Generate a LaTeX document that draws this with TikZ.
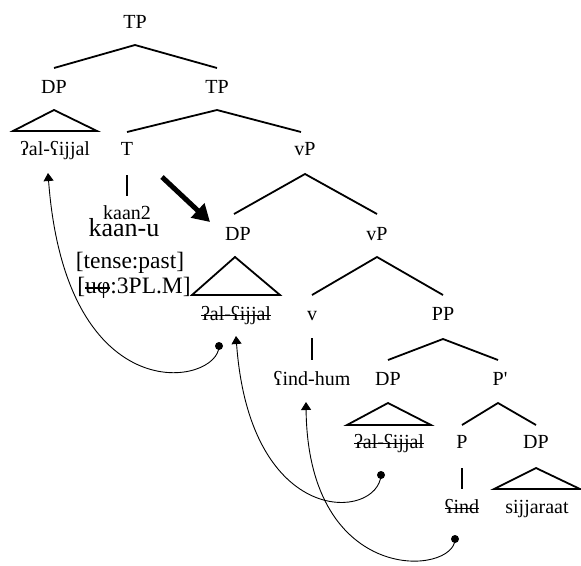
\documentclass[tikz,border=0pt]{standalone}
\usepackage{fontspec}
\setmainfont{Liberation Serif}
\newcommand\strk[1]{\leavevmode\setbox0=\hbox{#1}\rlap{\rule[0.19em]{\wd0}{1.4pt}}\box0}
\usetikzlibrary{arrows.meta}
\begin{document}
\begin{tikzpicture}[x=1pt,y=-1pt,
  lab/.style={inner sep=0pt, anchor=base, font=\fontsize{20}{24}\selectfont},
  bigw/.style={inner sep=0pt, anchor=base, font=\fontsize{26}{30}\selectfont},
  feat/.style={inner sep=0pt, anchor=base, font=\fontsize{23.5}{28}\selectfont},
  br/.style={line width=1.8pt},
  mv/.style={line width=0.9pt, -{Triangle[width=10pt,length=8pt]}},
  dotn/.style={circle, fill, inner sep=0pt, minimum size=8pt},
  thickarr/.style={line width=5pt, -{Triangle[width=19pt,length=17pt]}}]
\useasboundingbox (0,0) rectangle (581,565);
% labels
\node[lab] (tp1) at (135,28) {TP};
\node[lab] (dp1) at (54,93) {DP};
\node[lab] (tp2) at (217,93) {TP};
\node[lab] (al1) at (55,155) {ʔal-ʕijjal};
\node[lab] (t) at (127,155) {T};
\node[lab] (kaan2) at (127,219) {kaan2};
\node[bigw] (kaanu) at (124,236) {kaan-u};
\node[feat] (tense) at (130,268) {[tense:past]};
\node[feat] (uphi) at (134,293) {[\strk{uφ}:3PL.M]};
\node[lab] (vp1) at (305,155) {vP};
\node[lab] (dp2) at (238,240) {DP};
\node[lab] (vp2) at (377,240) {vP};
\node[lab] (al2) at (236,320) {\strk{ʔal-ʕijjal}};
\node[lab] (v) at (312,320) {v};
\node[lab] (pp) at (443,320) {PP};
\node[lab] (findhum) at (312,385) {ʕind-hum};
\node[lab] (dp3) at (388,385) {DP};
\node[lab] (pbar) at (500,385) {P\textquotesingle};
\node[lab] (al3) at (389,448) {\strk{ʔal-ʕijjal}};
\node[lab] (p) at (462,448) {P};
\node[lab] (dp4) at (536,448) {DP};
\node[lab] (find) at (462,513) {\strk{ʕind}};
\node[lab] (sij) at (537,513) {sijjaraat};
% branches
\draw[br] ([yshift=25pt]dp1.base) -- ([yshift=-17pt]tp1.base) -- ([yshift=25pt]tp2.base);
\draw[br] ([yshift=23pt]t.base) -- ([yshift=-17pt]tp2.base) -- ([yshift=23pt,xshift=-4pt]vp1.base);
\draw[br] ([yshift=26pt,xshift=-4pt]dp2.base) -- ([yshift=-19pt]vp1.base) -- ([yshift=26pt]vp2.base);
\draw[br] ([yshift=25pt]v.base) -- ([yshift=-17pt]vp2.base) -- ([yshift=25pt]pp.base);
\draw[br] ([yshift=25pt]dp3.base) -- ([yshift=-19pt]pp.base) -- ([yshift=25pt,xshift=-2pt]pbar.base);
\draw[br] ([yshift=23pt]p.base) -- ([yshift=-18pt,xshift=-2pt]pbar.base) -- ([yshift=23pt]dp4.base);
% unary lines
\draw[br] ([yshift=-20pt]t.base) -- ([yshift=23pt]kaan2.base);
\draw[br] ([yshift=-18pt]v.base) -- ([yshift=25pt]findhum.base);
\draw[br] ([yshift=-20pt]p.base) -- ([yshift=24pt]find.base);
% triangles
\draw[br] ([yshift=-17pt]dp1.base) -- ([xshift=-42pt,yshift=24pt]al1.base) -- ([xshift=42pt,yshift=24pt]al1.base) -- cycle;
\draw[br] ([yshift=-17pt,xshift=-3pt]dp2.base) -- ([xshift=-44pt,yshift=25pt]al2.base) -- ([xshift=44pt,yshift=25pt]al2.base) -- cycle;
\draw[br] ([yshift=-18pt]dp3.base) -- ([xshift=-42pt,yshift=23pt]al3.base) -- ([xshift=42pt,yshift=23pt]al3.base) -- cycle;
\draw[br] ([yshift=-20pt]dp4.base) -- ([xshift=-43pt,yshift=24pt]sij.base) -- ([xshift=43pt,yshift=24pt]sij.base) -- cycle;
% thick arrow
\coordinate (ta) at (162,177);
\coordinate (tb) at (210,222);
\draw[thickarr] (ta) -- (tb);
% movement arrows
\node[dotn] (d1) at (219,346) {};
\node[dotn] (d2) at (381,475) {};
\node[dotn] (d3) at (455,539) {};
\coordinate (t1) at (48,173);
\coordinate (t2) at (236,336);
\coordinate (t3) at (306,402);
\draw[mv] (d1.center) .. controls (219,385) and (66,415) .. (t1);
\draw[mv] (d2.center) .. controls (378,520) and (250,530) .. (t2);
\draw[mv] (d3.center) .. controls (455,575) and (308,588) .. (t3);
\end{tikzpicture}
\end{document}
